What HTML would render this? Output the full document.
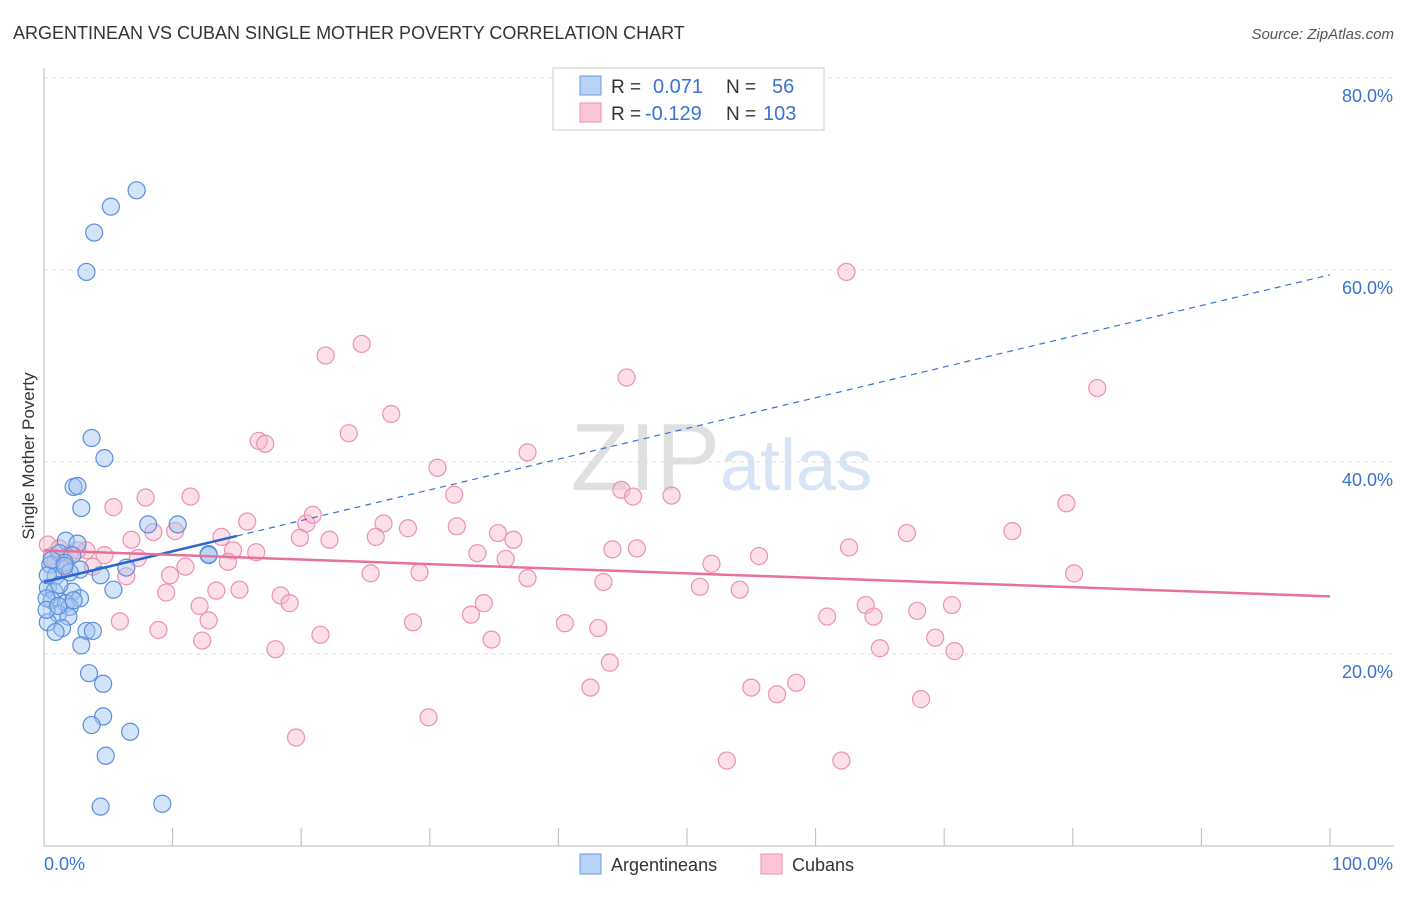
<!DOCTYPE html>
<html><head><meta charset="utf-8"><style>
body{margin:0;background:#fff;font-family:"Liberation Sans",sans-serif;}
svg text{font-family:"Liberation Sans",sans-serif;}
</style></head><body>
<svg id="chart" width="1406" height="892" xmlns="http://www.w3.org/2000/svg">
<text x="13" y="39" font-size="18" fill="#333">ARGENTINEAN VS CUBAN SINGLE MOTHER POVERTY CORRELATION CHART</text>
<text x="1394" y="39" font-size="15" fill="#555" text-anchor="end" font-style="italic">Source: ZipAtlas.com</text>
<text x="720" y="490" font-size="96" fill="#e0e0e0" text-anchor="end" font-family="Liberation Serif">ZIP</text>
<text x="720" y="490" font-size="72" fill="#d6e4f5">atlas</text>
<g id="grid"></g>
<g id="axes"></g>
<g id="pts"></g>
<g id="trends"></g>
<text transform="translate(34,456) rotate(-90)" font-size="17" fill="#333" text-anchor="middle">Single Mother Poverty</text>
<g>
<rect x="553" y="68" width="271" height="62" fill="#fff" stroke="#ccc"/>
<rect x="580" y="76" width="21" height="19" fill="#b8d3f5" stroke="#6a9de0"/>
<rect x="580" y="103" width="21" height="19" fill="#fbc5d5" stroke="#eb92ad"/>
<text x="611" y="93" font-size="19" fill="#333">R =</text>
<text x="653" y="93" font-size="20" fill="#3a72d4">0.071</text>
<text x="726" y="93" font-size="19" fill="#333">N =</text>
<text x="772" y="93" font-size="20" fill="#3a72d4">56</text>
<text x="611" y="120" font-size="19" fill="#333">R =</text>
<text x="645" y="120" font-size="20" fill="#3a72d4">-0.129</text>
<text x="726" y="120" font-size="19" fill="#333">N =</text>
<text x="763" y="120" font-size="20" fill="#3a72d4">103</text>
</g>
<g>
<rect x="580" y="854" width="21" height="20" fill="#b8d3f5" stroke="#6a9de0"/>
<text x="611" y="871" font-size="18" fill="#333">Argentineans</text>
<rect x="761" y="854" width="21" height="20" fill="#fbc5d5" stroke="#eb92ad"/>
<text x="792" y="871" font-size="18" fill="#333">Cubans</text>
</g>
</svg>
<script>
const xTicks=[0,10,20,30,40,50,60,70,80,90,100];
const yTicks=[20,40,60,80];
const blueX=[7.2,5.2,3.9,3.3,3.7,4.7,2.3,2.6,2.9,8.1,10.4,12.8,12.8,1.7,2.6,1.2,2.2,0.5,1.6,2.8,0.9,4.4,6.4,5.4,0.3,0.8,2.2,2.8,0.6,1.7,2.0,1.1,1.9,0.3,1.4,3.3,3.8,2.9,3.5,4.6,4.6,3.7,6.7,4.8,4.4,9.2,0.3,0.2,1.2,2.0,0.6,0.2,1.1,1.6,2.3,0.9];
const blueY=[68.3,66.6,63.9,59.8,42.5,40.4,37.4,37.5,35.2,33.5,33.5,30.4,30.3,31.8,31.5,30.5,30.3,29.3,29.5,28.8,28.1,28.2,29.0,26.7,26.9,26.5,26.5,25.8,25.6,25.3,24.9,24.2,23.9,23.3,22.7,22.4,22.4,20.9,18.0,16.9,13.5,12.6,11.9,9.4,4.1,4.4,28.2,25.8,27.2,28.5,29.8,24.6,25.0,29.2,25.6,22.3];
const pinkX=[62.4,21.9,24.7,45.3,81.9,27,23.7,16.7,17.2,37.6,30.6,44.9,45.8,48.8,31.9,7.9,11.4,5.4,79.5,15.8,20.4,20.9,26.4,32.1,35.3,28.3,75.3,67.1,8.5,10.2,13.8,19.9,22.2,25.8,36.5,6.8,62.6,46.1,44.2,14.7,16.5,33.7,55.6,35.9,3.3,4.7,7.3,51.9,11,14.3,3.8,6.4,9.8,25.4,29.2,80.1,37.6,43.5,51,54.1,13.4,15.2,9.5,18.4,19.1,34.2,12.1,63.9,70.6,67.9,33.2,60.9,64.5,5.9,12.8,28.7,40.5,43.1,8.9,21.5,34.8,12.3,69.3,65,70.8,18,44,42.5,55,58.5,57,68.2,29.9,19.6,53.1,62,0.3,0.6,1.2,0.9,2.0,1.6,2.6];
const pinkY=[59.8,51.1,52.3,48.8,47.7,45,43,42.2,41.9,41,39.4,37.1,36.4,36.5,36.6,36.3,36.4,35.3,35.7,33.8,33.6,34.5,33.6,33.3,32.6,33.1,32.8,32.6,32.7,32.8,32.2,32.1,31.9,32.2,31.9,31.9,31.1,31.0,30.9,30.8,30.6,30.5,30.2,29.9,30.8,30.3,30.0,29.4,29.1,29.6,29.1,28.1,28.2,28.4,28.5,28.4,27.9,27.5,27,26.7,26.6,26.7,26.4,26.1,25.3,25.3,25,25.1,25.1,24.5,24.1,23.9,23.9,23.4,23.5,23.3,23.2,22.7,22.5,22,21.5,21.4,21.7,20.6,20.3,20.5,19.1,16.5,16.5,17,15.8,15.3,13.4,11.3,8.9,8.9,31.4,30.2,31.0,29.6,30.4,29.0,30.8];
const X=v=>44+v*12.86, Y=v=>846-v*9.6;
const NS="http://www.w3.org/2000/svg";
function mk(t,a,p){const e=document.createElementNS(NS,t);for(const k in a)e.setAttribute(k,a[k]);p.appendChild(e);return e;}
const grid=document.getElementById('grid'),axes=document.getElementById('axes');
yTicks.forEach(v=>{const l=mk('line',{x1:44,x2:1394,y1:Y(v),y2:Y(v),stroke:'#ddd','stroke-dasharray':'4,4'},grid);


const t=mk('text',{x:1393,y:Y(v)+24,'font-size':18,fill:'#3a72d4','text-anchor':'end'},grid);t.textContent=v.toFixed(1)+'%';

});
mk('line',{x1:44,x2:44,y1:68,y2:846,stroke:'#bbb'},axes);
mk('line',{x1:44,x2:1394,y1:846,y2:846,stroke:'#bbb'},axes);
xTicks.forEach(v=>{const l=mk('line',{x1:X(v),x2:X(v),y1:828,y2:846,stroke:'#bbb'},axes);

});
[[0,'start',44],[100,'end',1393]].forEach(([v,a,x])=>{const t=mk('text',{x:x,y:870,'font-size':18,fill:'#3a72d4','text-anchor':a},axes);t.textContent=v.toFixed(1)+'%';

});
const pts=document.getElementById('pts');
pinkX.forEach((v,i)=>{const c=mk('circle',{cx:X(v),cy:Y(pinkY[i]),r:8.5,fill:'rgba(248,183,203,0.45)',stroke:'#eb92ad','stroke-width':1.2},pts);

});
blueX.forEach((v,i)=>{const c=mk('circle',{cx:X(v),cy:Y(blueY[i]),r:8.5,fill:'rgba(160,196,240,0.45)',stroke:'#5a8fdc','stroke-width':1.2},pts);

});
const tr=document.getElementById('trends');
const b0=27.5,b1=0.32,p0=30.8,p1=-0.048;
let l=mk('line',{x1:X(15),y1:Y(b0+b1*15),x2:X(100),y2:Y(b0+b1*100),stroke:'#3a72d4','stroke-width':1.2,'stroke-dasharray':'6,5'},tr);


l=mk('line',{x1:X(0),y1:Y(b0),x2:X(15),y2:Y(b0+b1*15),stroke:'#2a66d0','stroke-width':2.5},tr);


l=mk('line',{x1:X(0),y1:Y(p0),x2:X(100),y2:Y(p0+p1*100),stroke:'#e8709a','stroke-width':2.5},tr);


</script>
</body></html>
